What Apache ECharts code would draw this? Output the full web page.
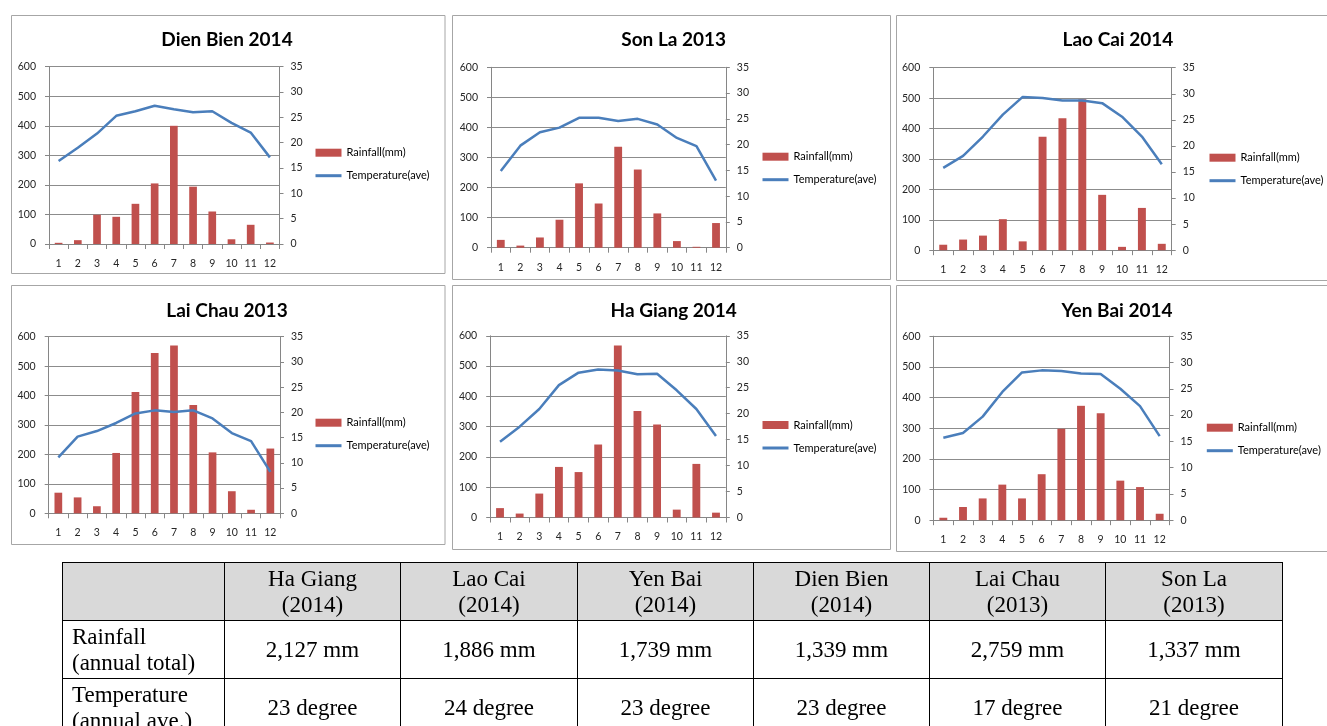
<!DOCTYPE html>
<html>
<head>
<meta charset="utf-8">
<script src="https://cdn.jsdelivr.net/npm/echarts@6/dist/echarts.min.js"></script>
<style>
html,body{margin:0;padding:0;background:#fff;width:1327px;height:726px;overflow:hidden;}
#chart{position:absolute;left:0;top:0;width:1327px;height:726px;}
#tbl{position:absolute;left:62px;top:562px;border-collapse:collapse;font-family:"Liberation Serif","Times New Roman",serif;font-size:23px;line-height:26px;color:#000;table-layout:fixed;}
#tbl td{border:1px solid #000;height:57px;padding:0;text-align:center;vertical-align:middle;}
#tbl tr.head td{background:#d9d9d9;}
#tbl td.rowlab{text-align:left;padding-left:9px;}
</style>
</head>
<body>
<div id="chart"></div>
<table id="tbl"></table>
<script>
// ---------- data ----------
const months = ['1','2','3','4','5','6','7','8','9','10','11','12'];
const chartTitles = ['Dien Bien 2014','Son La 2013','Lao Cai 2014','Lai Chau 2013','Ha Giang 2014','Yen Bai 2014'];
const rainName = 'Rainfall(mm)';
const tempName = 'Temperature(ave)';

const rainDienBien = [4,13,99,92,136,205,400,194,110,16,65,5];
const tempDienBien = [16.4,19.0,21.8,25.3,26.2,27.3,26.6,26.0,26.2,23.9,22.0,17.1];
const rainSonLa = [26,7,34,93,214,147,336,260,114,22,3,82];
const tempSonLa = [14.9,19.8,22.4,23.3,25.2,25.2,24.6,25.0,23.9,21.3,19.7,13.0];
const rainLaoCai = [18,35,48,102,29,373,434,496,182,11,139,21];
const tempLaoCai = [15.8,18.1,21.8,26.0,29.4,29.2,28.7,28.7,28.2,25.6,21.8,16.5];
const rainLaiChau = [70,54,24,205,412,545,570,368,207,75,12,220];
const tempLaiChau = [11.1,15.2,16.3,17.9,19.8,20.4,20.1,20.4,18.8,15.9,14.3,8.2];
const rainHaGiang = [31,13,79,167,150,241,568,352,307,26,177,16];
const tempHaGiang = [14.6,17.5,20.9,25.5,27.9,28.5,28.3,27.6,27.7,24.5,20.9,15.7];
const rainYenBai = [8,43,71,116,71,150,298,373,349,129,108,21];
const tempYenBai = [15.7,16.6,19.7,24.4,28.1,28.5,28.4,27.9,27.8,25.0,21.7,16.0];

const rainAxisMin = 0, rainAxisMax = 600, rainAxisStep = 100;
const tempAxisMin = 0, tempAxisMax = 35, tempAxisStep = 5;

// table
const tableProvinces = ['Ha Giang','Lao Cai','Yen Bai','Dien Bien','Lai Chau','Son La'];
const tableYears = ['(2014)','(2014)','(2014)','(2014)','(2013)','(2013)'];
const tableRainLabel = ['Rainfall','(annual total)'];
const tableRain = ['2,127 mm','1,886 mm','1,739 mm','1,339 mm','2,759 mm','1,337 mm'];
const tableTempLabel = ['Temperature','(annual ave.)'];
const tableTemp = ['23 degree','24 degree','23 degree','23 degree','17 degree','21 degree'];

// ---------- layout ----------
const rainData = [rainDienBien, rainSonLa, rainLaoCai, rainLaiChau, rainHaGiang, rainYenBai];
const tempData = [tempDienBien, tempSonLa, tempLaoCai, tempLaiChau, tempHaGiang, tempYenBai];
const grids = [
  {left:49, top:66.7, width:230.5, height:177.3},
  {left:491, top:67.3, width:234.8, height:180.4},
  {left:933.3, top:67.7, width:238.4, height:182.5},
  {left:48.7, top:336.7, width:231.3, height:176.6},
  {left:490.2, top:335.8, width:235.6, height:181.7},
  {left:933.5, top:336.2, width:236, height:184}
];
const boxes = [
  {x:11.5, y:15.5, w:433.5, h:258},
  {x:452.5, y:15.5, w:438, h:264},
  {x:896.5, y:15.5, w:450, h:265},
  {x:11.5, y:285.5, w:433.5, h:259},
  {x:452.5, y:285.5, w:438, h:264},
  {x:896.5, y:285.5, w:450, h:266}
];
const titlePos = [[227,39],[673.7,39],[1118,39],[227,310],[673.7,310],[1117,310]];
const legendPos = [[314,152.7],[761,156.7],[1208,157.7],[314,422.7],[761,425],[1205.3,427.7]];

const FONT = 'Lato, "Open Sans", sans-serif';
const axisColor = '#868686';
const labelColor = '#262626';

const option = {
  animation:false,
  backgroundColor:'#fff',
  textStyle:{fontFamily:FONT},
  title:[], legend:[], grid:[], xAxis:[], yAxis:[], series:[],
  graphic:[]
};

for (let i=0;i<6;i++){
  const b = boxes[i];
  option.graphic.push({type:'rect', z:-10, silent:true,
    shape:{x:b.x,y:b.y,width:b.w,height:b.h},
    style:{fill:null, stroke:'#a6a6a6', lineWidth:1}});
  option.title.push({text:chartTitles[i], left:titlePos[i][0], top:titlePos[i][1]-9, textAlign:'center', padding:0,
    textStyle:{fontFamily:FONT, fontWeight:'bold', fontSize:19, color:'#000'}});
  option.grid.push(Object.assign({containLabel:false}, grids[i]));
  option.xAxis.push({type:'category', gridIndex:i, data:months, boundaryGap:true,
    axisLine:{lineStyle:{color:axisColor,width:1}},
    axisTick:{show:true, alignWithLabel:false, interval:0, length:5, lineStyle:{color:axisColor}},
    axisLabel:{interval:0, color:labelColor, fontSize:10.5, fontFamily:FONT, margin:14},
    splitLine:{show:false}});
  option.yAxis.push({type:'value', gridIndex:i, position:'left', min:rainAxisMin, max:rainAxisMax, interval:rainAxisStep,
    axisLine:{show:true, lineStyle:{color:axisColor}},
    axisTick:{show:true, length:4, lineStyle:{color:axisColor}},
    axisLabel:{color:labelColor, fontSize:10.5, fontFamily:FONT, margin:13},
    splitLine:{show:true, lineStyle:{color:'#8c8c8c', width:1}}});
  option.yAxis.push({type:'value', gridIndex:i, position:'right', min:tempAxisMin, max:tempAxisMax, interval:tempAxisStep,
    axisLine:{show:true, lineStyle:{color:axisColor}},
    axisTick:{show:true, length:4, lineStyle:{color:axisColor}},
    axisLabel:{color:labelColor, fontSize:10.5, fontFamily:FONT, margin:11},
    splitLine:{show:false}});
  option.series.push({name:rainName, type:'bar', xAxisIndex:i, yAxisIndex:2*i, data:rainData[i],
    barWidth:'40%', itemStyle:{color:'#C0504D'}, z:2});
  option.series.push({name:tempName, type:'line', xAxisIndex:i, yAxisIndex:2*i+1, data:tempData[i],
    symbol:'none', showSymbol:false, lineStyle:{color:'#4A7EBB', width:2.5}, itemStyle:{color:'#4A7EBB'}, z:3});
  option.legend.push({orient:'vertical', left:legendPos[i][0], top:legendPos[i][1]-7, padding:0,
    itemWidth:26, itemHeight:8, itemGap:9, selectedMode:false,
    data:[{name:rainName, icon:'rect'},
          {name:tempName, itemStyle:{opacity:0}, lineStyle:{color:'#4A7EBB', width:3}}],
    textStyle:{fontFamily:FONT, fontSize:11, color:'#000', lineHeight:14}});
}

const chart = echarts.init(document.getElementById('chart'), null, {renderer:'canvas'});
chart.setOption(option);

// ---------- table ----------
const tbl = document.getElementById('tbl');
const colWidths = [162,176,177,176,176,176,177];
const cg = document.createElement('colgroup');
colWidths.forEach(w=>{const c=document.createElement('col'); c.style.width=w+'px'; cg.appendChild(c);});
tbl.appendChild(cg);
function addRow(cls, label, cells){
  const tr = document.createElement('tr'); if(cls) tr.className = cls;
  const td0 = document.createElement('td'); td0.className='rowlab'; td0.innerHTML = label; tr.appendChild(td0);
  cells.forEach(c=>{const td=document.createElement('td'); td.innerHTML=c; tr.appendChild(td);});
  tbl.appendChild(tr);
}
addRow('head', '', tableProvinces.map((p,k)=>p+'<br>'+tableYears[k]));
addRow('', tableRainLabel.join('<br>'), tableRain);
addRow('', tableTempLabel.join('<br>'), tableTemp);
</script>
</body>
</html>
